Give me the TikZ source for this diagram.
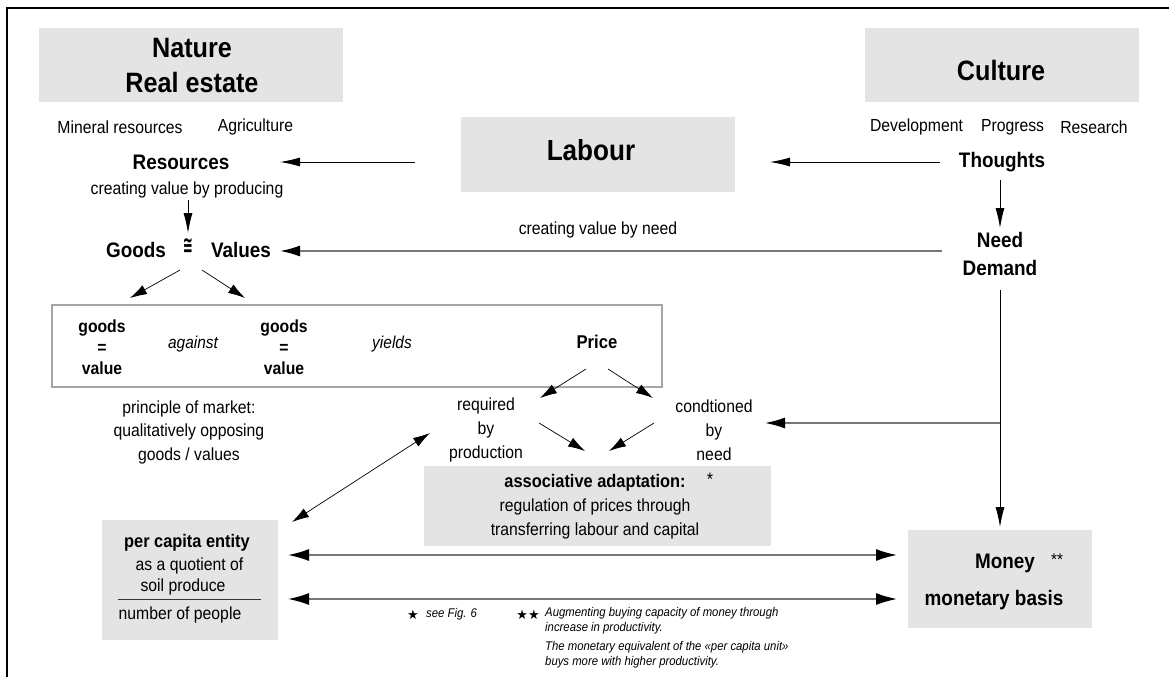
\documentclass[tikz,border=0pt]{standalone}
\usepackage{fontspec}
\setmainfont[FakeStretch=0.9]{Liberation Sans}
\newfontfamily\symfont{DejaVu Sans}
\usetikzlibrary{arrows.meta}
\definecolor{boxgray}{HTML}{E4E4E4}
\definecolor{rulegray}{HTML}{A6A6A6}
\definecolor{linegray}{HTML}{777777}
\newcommand\fsz[2]{\fontsize{#1}{#2}\selectfont}

\begin{document}
\begin{tikzpicture}[x=1pt,y=-1pt,
  txt/.style={inner sep=0pt, align=center},
  tTitle/.style={txt, font=\bfseries\fsz{28}{35}},
  tHead/.style={txt, font=\bfseries\fsz{21}{28}},
  tBody/.style={txt, font=\fsz{17.5}{24}},
  tSmallBold/.style={txt, font=\bfseries\fsz{17.5}{21}},
  tItal/.style={txt, font=\itshape\fsz{17.2}{21}},
  tNote/.style={inner sep=0pt, align=left, font=\itshape\fsz{12.6}{15}},
  graybox/.style={fill=boxgray, draw=none, inner sep=0pt},
  arr/.style={line width=0.9pt, -{Latex[length=20pt,width=9pt]}},
  sarr/.style={line width=0.7pt, -{Latex[length=17pt,width=10pt]}},
  garr/.style={draw=linegray, line width=1.8pt, -{Latex[length=20pt,width=11pt,black]}},
  gdbl/.style={draw=linegray, line width=1.6pt,
    {Latex[length=21pt,width=12pt,black]}-{Latex[length=21pt,width=12pt,black]}},
  sdbl/.style={line width=0.7pt,
    {Latex[length=17pt,width=10pt]}-{Latex[length=17pt,width=10pt]}},
]
\useasboundingbox (0,0) rectangle (1169,677);
\fill[white] (0,0) rectangle (1169,677);

% frame
\draw[line width=1.4pt] (7,677) -- (7,8) -- (1169,8);

% shaded boxes
\node[graybox, minimum width=304pt, minimum height=74pt] (nature) at (191,65) {};
\node[graybox, minimum width=274pt, minimum height=74pt] (culture) at (1002,65) {};
\node[graybox, minimum width=274pt, minimum height=75pt] (labour) at (598,154.5) {};
\node[graybox, minimum width=176pt, minimum height=120pt] (percap) at (190,580) {};
\node[graybox, minimum width=347pt, minimum height=80pt] (assoc) at (597.5,506) {};
\node[graybox, minimum width=184pt, minimum height=98pt] (money) at (1000,579) {};
\node[draw=rulegray, line width=1.2pt, inner sep=0pt,
      minimum width=610pt, minimum height=82pt] (market) at (357,346) {};

% headings
\node[tTitle] (naturetxt) at (192,65.5) {Nature\\Real estate};
\node[tTitle] (culturetxt) at (1001,70) {Culture};
\node[txt, font=\bfseries\fsz{29}{35}] (labourtxt) at (591,150) {Labour};

% nature side
\node[tBody] (mineral) at (120,127) {Mineral resources};
\node[tBody] (agric) at (255.5,127) {Agriculture};
\node[tHead] (resources) at (181,162) {Resources};
\node[tBody] (cvp) at (187,190) {creating value by producing};
\node[tHead] (goods) at (136,250) {Goods};
\node[txt, font=\symfont\bfseries\fsz{24}{24}] (cong) at (188,246) {\scalebox{0.5}[1]{≅}};
\node[tHead] (values) at (241,250) {Values};

% culture side
\node[tBody] (devel) at (916.5,127) {Development};
\node[tBody] (progress) at (1012.5,127) {Progress};
\node[tBody] (research) at (1094,127) {Research};
\node[tHead] (thoughts) at (1002,162) {Thoughts};
\node[tHead] (need) at (1000,254) {Need\\Demand};
\node[tBody] (cvn) at (598,230) {creating value by need};

% market
\node[tSmallBold] (gv1) at (102,347) {goods\\=\\value};
\node[tItal] (against) at (193,344) {against};
\node[tSmallBold] (gv2) at (284,347) {goods\\=\\value};
\node[tItal] (yields) at (392,344) {yields};
\node[txt, font=\bfseries\fsz{18.5}{21}] (price) at (597,342) {Price};
\node[txt, font=\fsz{17.5}{23.5}] (principle) at (189,432)
  {principle of market:\\qualitatively opposing\\goods / values};

% price conditions
\node[tBody] (required) at (486,430) {required\\by\\production};
\node[tBody] (conditioned) at (714,430) {condtioned\\by\\need};
\node[txt, font=\fsz{18}{18}, anchor=base] (astA) at (710,485) {*};
\node[txt, font=\fsz{17.5}{24}] (assoctxt) at (595,507)
  {\bfseries\fsz{18.2}{24}associative adaptation:\\regulation of prices through\\transferring labour and capital};

% per capita entity
\node[txt, font=\bfseries\fsz{18.2}{21}] (pce) at (187,543) {per capita entity};
\node[tBody] (quot) at (189.5,566) {as a quotient of};
\node[tBody] (soil) at (183,587) {soil produce};
\draw[line width=0.8pt, black!80] (118,599) -- (261,599);
\node[tBody] (people) at (180,615) {number of people};

% money
\node[tHead] (moneytxt) at (1005,563) {Money};
\node[txt, font=\fsz{17}{17}, anchor=base] (astB) at (1057,565) {**};
\node[tHead] (basis) at (994,600) {monetary basis};

% footnotes
\node[txt, font=\symfont\fsz{13}{13}] (fstar) at (413,615) {★};
\node[tNote, anchor=west] (fsee) at (426,614) {see Fig. 6};
\node[txt, font=\symfont\fsz{13}{13}] (fstars) at (528,615) {★★};
\node[tNote, anchor=west] (fnA) at (545,620.5)
  {Augmenting buying capacity of money through\\increase in productivity.};
\node[tNote, anchor=west] (fnB) at (545,655)
  {The monetary equivalent of the «per capita unit»\\buys more with higher productivity.};

% connectors
\draw[arr] ([shift={(-183,7.5)}]labour.center) -- ([shift={(99,0)}]resources.center);
\draw[arr] ([shift={(-62,0)}]thoughts.center) -- ([shift={(172,7.5)}]labour.center);
\draw[arr] ([shift={(1,10)}]cvp.center) -- ([shift={(0,-13)}]cong.center);
\draw[garr] ([shift={(-58,-3)}]need.center) -- ([shift={(39,1)}]values.center);
\draw[arr] ([shift={(-2,18)}]thoughts.center) -- ([shift={(0,-26)}]need.center);
\draw[arr] ([shift={(0,36)}]need.center) -- ([shift={(0,-52)}]money.center);
\coordinate (jn) at (1000,423);
\draw[garr, line width=1.5pt] (jn) -- ([shift={(51,-7)}]conditioned.center);

\draw[sarr] ([shift={(-8,24)}]cong.center) -- ([shift={(28,-49)}]gv1.center);
\draw[sarr] ([shift={(14,24)}]cong.center) -- ([shift={(-39,-49)}]gv2.center);

\draw[sarr] ([shift={(-11,27)}]price.center) -- ([shift={(54,-32)}]required.center);
\draw[sarr] ([shift={(11,27)}]price.center) -- ([shift={(-61,-32)}]conditioned.center);
\draw[sarr] ([shift={(53,-7)}]required.center) -- ([shift={(-12.5,-55)}]assoc.center);
\draw[sarr] ([shift={(-60,-7)}]conditioned.center) -- ([shift={(11.5,-55)}]assoc.center);

\draw[sdbl] ([shift={(102,-58)}]percap.center) -- ([shift={(-56,3)}]required.center);
\draw[gdbl] ([shift={(98,-25)}]percap.center) -- ([shift={(-103,-24)}]money.center);
\draw[gdbl] ([shift={(98,19)}]percap.center) -- ([shift={(-103,20)}]money.center);
\end{tikzpicture}
\end{document}
